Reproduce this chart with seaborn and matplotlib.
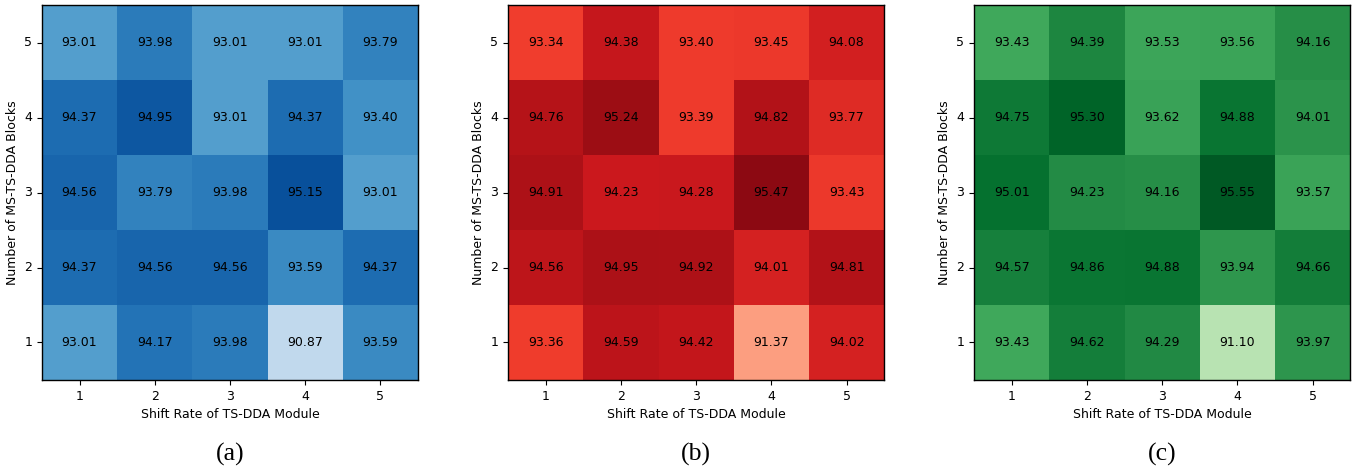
import pandas as pd
import numpy as np
import seaborn as sns
import matplotlib.pyplot as plt

# Rader: antal MS-TS-DDA block (5 överst), kolumner: shift rate 1..5
blocks = [5, 4, 3, 2, 1]
shift_rates = [1, 2, 3, 4, 5]

acc_a = [
    [93.01, 93.98, 93.01, 93.01, 93.79],
    [94.37, 94.95, 93.01, 94.37, 93.40],
    [94.56, 93.79, 93.98, 95.15, 93.01],
    [94.37, 94.56, 94.56, 93.59, 94.37],
    [93.01, 94.17, 93.98, 90.87, 93.59],
]
acc_b = [
    [93.34, 94.38, 93.40, 93.45, 94.08],
    [94.76, 95.24, 93.39, 94.82, 93.77],
    [94.91, 94.23, 94.28, 95.47, 93.43],
    [94.56, 94.95, 94.92, 94.01, 94.81],
    [93.36, 94.59, 94.42, 91.37, 94.02],
]
acc_c = [
    [93.43, 94.39, 93.53, 93.56, 94.16],
    [94.75, 95.30, 93.62, 94.88, 94.01],
    [95.01, 94.23, 94.16, 95.55, 93.57],
    [94.57, 94.86, 94.88, 93.94, 94.66],
    [93.43, 94.62, 94.29, 91.10, 93.97],
]

panels = [(acc_a, 'Blues', '(a)'), (acc_b, 'Reds', '(b)'), (acc_c, 'Greens', '(c)')]
lefts = [0.031, 0.3755, 0.72]

fig = plt.figure(figsize=(13.53, 4.72), dpi=100)

for (vals, cmap, label), left in zip(panels, lefts):
    ax = fig.add_axes([left, 0.195, 0.278, 0.794])
    df = pd.DataFrame(vals, index=blocks, columns=shift_rates)
    sns.heatmap(df, ax=ax, cmap=cmap, vmin=89, vmax=96, cbar=False,
                annot=True, fmt='.2f', square=False,
                annot_kws={'color': 'black', 'fontsize': 9})
    for sp in ax.spines.values():
        sp.set_visible(True)
        sp.set_color('black')
        sp.set_linewidth(1.0)
    ax.set_xlabel('Shift Rate of TS-DDA Module', fontsize=9)
    ax.set_ylabel('Number of MS-TS-DDA Blocks', fontsize=9)
    ax.tick_params(labelsize=9, length=3.5)
    plt.setp(ax.get_yticklabels(), rotation=0)
    plt.setp(ax.get_xticklabels(), rotation=0)
    ax.text(0.5, -0.2, label, transform=ax.transAxes, ha='center', va='center',
            fontsize=18.5, family='Liberation Serif')

fig.savefig('out.png', dpi=100)
